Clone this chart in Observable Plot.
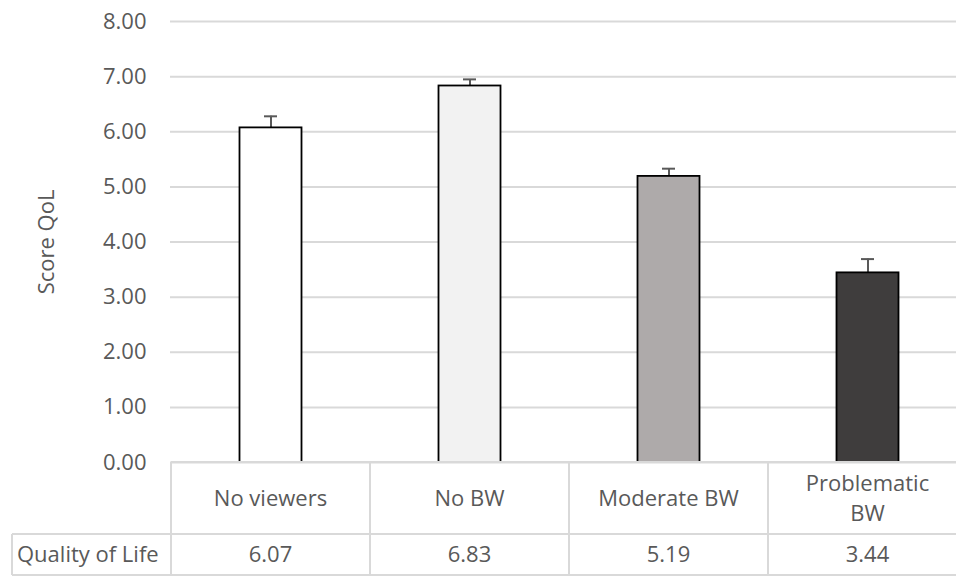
<!DOCTYPE html>
<html><head><meta charset="utf-8">
<script src="https://cdn.jsdelivr.net/npm/d3@7"></script>
<script src="https://cdn.jsdelivr.net/npm/@observablehq/plot@0.6"></script>
<style>body{margin:0;background:#fff;overflow:hidden}</style>
</head><body><div id="chart"></div>
<script>
const categories = ["No viewers", "No BW", "Moderate BW", "Problematic BW"];
const tableLabels = [["No viewers"], ["No BW"], ["Moderate BW"], ["Problematic", "BW"]];
const values = [6.07, 6.83, 5.19, 3.44];
const errors = [0.21, 0.12, 0.14, 0.25];
const fills = ["#ffffff", "#f2f2f2", "#aeaaaa", "#3f3d3d"];
const seriesName = "Quality of Life";
const yTicks = [0, 1, 2, 3, 4, 5, 6, 7, 8];
const yTitle = "Score QoL";

const data = categories.map((c, i) => ({category: c, value: values[i], err: errors[i], fill: fills[i]}));

const font = "'Open Sans', sans-serif";
const textColor = "#595959";
const gridColor = "#d9d9d9";
const fmt = d => d.toFixed(2);

const chart = Plot.plot({
  width: 956, height: 576,
  marginLeft: 170, marginRight: -11, marginTop: 21, marginBottom: 114,
  style: {fontFamily: font, fontSize: "22px", color: textColor, background: "#fff"},
  color: {type: "identity"},
  x: {domain: categories, padding: 0, axis: null},
  y: {domain: [0, 8]},
  marks: [
    Plot.gridY(yTicks, {stroke: gridColor, strokeOpacity: 1, strokeWidth: 2}),
    Plot.axisY(yTicks, {tickSize: 0, tickPadding: 24, tickFormat: fmt, fontSize: 22,
      label: yTitle, labelAnchor: "center", labelArrow: "none", labelOffset: 132}),
    Plot.ruleX(data, {x: "category", y1: "value", y2: d => d.value + d.err, stroke: "#595959", strokeWidth: 2}),
    Plot.tickY(data, {x: "category", y: d => d.value + d.err, stroke: "#595959", strokeWidth: 2, insetLeft: 93, insetRight: 93}),
    Plot.barY(data, {x: "category", y: "value", fill: "fill", stroke: "#000", strokeWidth: 1.8, insetLeft: 68.5, insetRight: 68.5})
  ]
});

document.getElementById("chart").appendChild(chart);

// data table below the plot, positioned with the plot's own scales
const xs = chart.scale("x"), ys = chart.scale("y");
const bw = xs.bandwidth;
const y0 = ys.apply(0);
const row1 = 72, row2 = 41, labelLeft = 12;
const svg = d3.select(chart);
const g = svg.append("g").attr("stroke", gridColor).attr("stroke-width", 2);
const firstX = xs.apply(categories[0]);
const lastX = xs.apply(categories[categories.length - 1]) + bw;
categories.forEach(c => {
  const x = xs.apply(c);
  g.append("line").attr("x1", x).attr("x2", x).attr("y1", y0).attr("y2", y0 + row1 + row2);
  g.append("line").attr("x1", x + bw).attr("x2", x + bw).attr("y1", y0).attr("y2", y0 + row1 + row2);
});
g.append("line").attr("x1", firstX).attr("x2", lastX).attr("y1", y0).attr("y2", y0);
g.append("line").attr("x1", labelLeft).attr("x2", lastX).attr("y1", y0 + row1).attr("y2", y0 + row1);
g.append("line").attr("x1", labelLeft).attr("x2", lastX).attr("y1", y0 + row1 + row2).attr("y2", y0 + row1 + row2);
g.append("line").attr("x1", labelLeft).attr("x2", labelLeft).attr("y1", y0 + row1).attr("y2", y0 + row1 + row2);

const t = svg.append("g").attr("fill", textColor).attr("font-family", font).attr("font-size", 22).attr("text-anchor", "middle");
categories.forEach((c, i) => {
  const cx = xs.apply(c) + bw / 2;
  const lines = tableLabels[i];
  const lh = 30;
  const txt = t.append("text").attr("x", cx).attr("y", y0 + row1 / 2 - (lines.length - 1) * lh / 2);
  lines.forEach((l, j) => txt.append("tspan").attr("x", cx).attr("dy", j === 0 ? "0.35em" : lh).text(l));
  t.append("text").attr("x", cx).attr("y", y0 + row1 + row2 / 2).attr("dy", "0.35em").text(fmt(values[i]));
});
t.append("text").attr("x", labelLeft + 5).attr("y", y0 + row1 + row2 / 2).attr("dy", "0.35em").attr("text-anchor", "start").text(seriesName);
</script>
</body></html>
